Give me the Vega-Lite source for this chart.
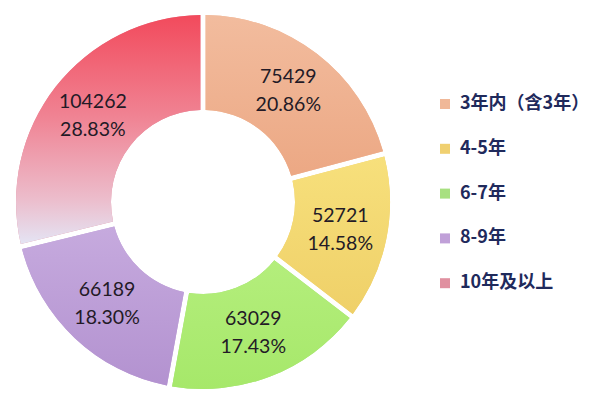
{
  "$schema": "https://vega.github.io/schema/vega-lite/v6.json",
  "width": 406,
  "height": 404,
  "padding": 0,
  "background": "white",
  "data": {"values": [
    {"cat": "3年内（含3年）", "rank": 1, "count": 75429, "pct": 0.2086},
    {"cat": "4-5年", "rank": 2, "count": 52721, "pct": 0.1458},
    {"cat": "6-7年", "rank": 3, "count": 63029, "pct": 0.1743},
    {"cat": "8-9年", "rank": 4, "count": 66189, "pct": 0.1830},
    {"cat": "10年及以上", "rank": 5, "count": 104262, "pct": 0.2883}
  ]},
  "encoding": {
    "theta": {"field": "count", "type": "quantitative", "stack": true},
    "order": {"field": "rank", "type": "quantitative"}
  },
  "layer": [
    {
      "mark": {"type": "arc", "outerRadius": 187, "innerRadius": 92, "padAngle": 0.025},
      "encoding": {
        "color": {
          "field": "cat", "type": "nominal",
          "scale": {
            "domain": ["3年内（含3年）", "4-5年", "6-7年", "8-9年", "10年及以上"],
            "range": ["#f0b898", "#f0d070", "#a8e080", "#c0a0d8", "#e090a0"]
          },
          "legend": {
            "title": null,
            "orient": "none",
            "legendX": 436,
            "legendY": 95,
            "symbolType": "square",
            "symbolSize": 100,
            "symbolStrokeWidth": 0,
            "labelFont": "Noto Sans CJK SC",
            "labelFontSize": 18,
            "labelFontWeight": "bold",
            "labelColor": "#1f2a5c",
            "labelOffset": 6,
            "rowPadding": 26.8,
            "padding": 0
          }
        }
      }
    },
    {
      "mark": {"type": "arc", "outerRadius": 187, "innerRadius": 92, "padAngle": 0.025},
      "encoding": {
        "fill": {
          "condition": [
            {"test": "datum.rank == 1", "value": {"gradient": "linear", "x1": 0, "y1": 0, "x2": 0, "y2": 1, "stops": [{"offset": 0, "color": "#f2bc9e"}, {"offset": 1, "color": "#eca884"}]}},
            {"test": "datum.rank == 2", "value": {"gradient": "linear", "x1": 0, "y1": 0, "x2": 0, "y2": 1, "stops": [{"offset": 0, "color": "#f7e07c"}, {"offset": 1, "color": "#efd068"}]}},
            {"test": "datum.rank == 3", "value": {"gradient": "linear", "x1": 0, "y1": 0, "x2": 0, "y2": 1, "stops": [{"offset": 0, "color": "#b4ee7c"}, {"offset": 1, "color": "#a6e86a"}]}},
            {"test": "datum.rank == 4", "value": {"gradient": "linear", "x1": 0, "y1": 0, "x2": 0, "y2": 1, "stops": [{"offset": 0, "color": "#c6aade"}, {"offset": 1, "color": "#b392d0"}]}},
            {"test": "datum.rank == 5", "value": {"gradient": "linear", "x1": 0, "y1": 0, "x2": 0, "y2": 1, "stops": [{"offset": 0, "color": "#f24a5c"}, {"offset": 0.45, "color": "#f08494"}, {"offset": 0.8, "color": "#ecbccb"}, {"offset": 1, "color": "#e4e4f4"}]}}
          ],
          "value": "#cccccc"
        }
      }
    },
    {
      "mark": {"type": "text", "radius": 140, "dy": -14, "font": "Lato", "fontSize": 19.5, "fill": "#231a26"},
      "encoding": {"text": {"field": "count", "type": "quantitative", "format": "d"}}
    },
    {
      "mark": {"type": "text", "radius": 140, "dy": 14, "font": "Lato", "fontSize": 19.5, "fill": "#231a26"},
      "encoding": {"text": {"field": "pct", "type": "quantitative", "format": ".2%"}}
    }
  ],
  "config": {"view": {"stroke": null}}
}
